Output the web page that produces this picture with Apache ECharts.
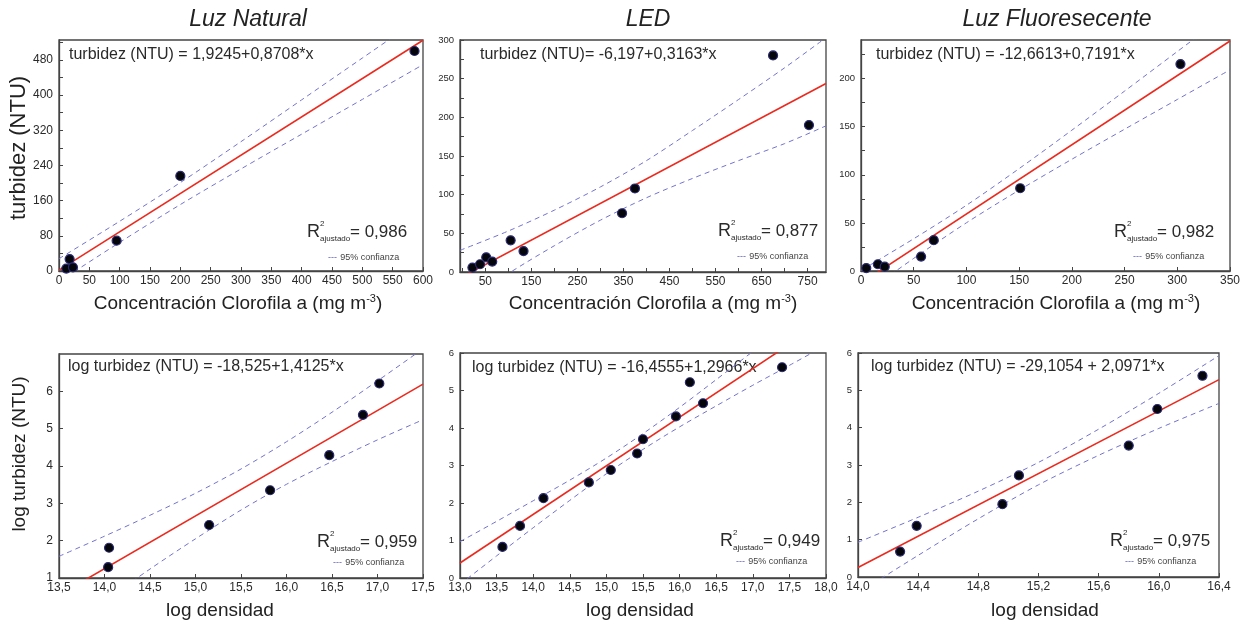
<!DOCTYPE html>
<html lang="es">
<head>
    <meta charset="UTF-8">
    <title>Turbidez frente a clorofila y densidad</title>
    <script src="https://cdn.jsdelivr.net/npm/echarts@6/dist/echarts.min.js"></script>
    <style>
        html, body {
            margin: 0;
            padding: 0;
            background: #fff;
        }

        #main {
            width: 1253px;
            height: 625px;
        }
    </style>
</head>
<body>
<div id="main"></div>
<script type="text/javascript">
    // Luz Natural: turbidez vs clorofila
    var natX = [12, 17.5, 23, 95, 200, 586];
    var natY = [5.5, 27, 8.4, 69, 216, 500];
    var natFitX = [0, 600];
    var natFitY = [1.92, 524.4];
    var natBandX = [0, 100, 200, 300, 400, 500, 600];
    var natUp = [28, 113, 201, 294, 389, 484, 579];
    var natLo = [-24, 65, 151, 232, 311, 390, 469];
    var natXTicks = [0, 50, 100, 150, 200, 250, 300, 350, 400, 450, 500, 550, 600];
    var natYLabels = [0, 80, 160, 240, 320, 400, 480];
    var natYTicks = [0, 40, 80, 120, 160, 200, 240, 280, 320, 360, 400, 440, 480, 520];

    // LED: turbidez vs clorofila
    var ledX = [22, 38.5, 52, 65, 105, 133, 347, 375, 675, 753];
    var ledY = [5.7, 10, 19, 13.5, 41, 27, 76, 108, 280, 190];
    var ledFitX = [-5, 790];
    var ledFitY = [-7.8, 243.7];
    var ledBandX = [-5, 100, 200, 300, 400, 500, 600, 700, 790];
    var ledUp = [28, 53, 80, 110, 144, 183, 223, 264, 303];
    var ledLo = [-44, -2, 34, 67, 96, 121, 144, 166, 189];
    var ledXLabels = [50, 150, 250, 350, 450, 550, 650, 750];
    var ledXTicks = [0, 50, 100, 150, 200, 250, 300, 350, 400, 450, 500, 550, 600, 650, 700, 750];
    var ledYLabels = [0, 50, 100, 150, 200, 250, 300];
    var ledYTicks = [0, 25, 50, 75, 100, 125, 150, 175, 200, 225, 250, 275, 300];

    // Luz Fluoresecente: turbidez vs clorofila
    var fluX = [5, 16, 22.5, 57, 69, 151, 303];
    var fluY = [3, 7, 4.5, 15, 32, 86, 215];
    var fluFitX = [0, 350];
    var fluFitY = [-12.66, 239.0];
    var fluBandX = [0, 50, 100, 150, 200, 250, 300, 350];
    var fluUp = [0.6, 33.5, 68.3, 106.4, 146.3, 186.9, 228, 269];
    var fluLo = [-26, 13.1, 50.1, 84, 116.1, 147.3, 178.2, 209];
    var fluXTicks = [0, 50, 100, 150, 200, 250, 300, 350];
    var fluYLabels = [0, 50, 100, 150, 200];
    var fluYTicks = [0, 25, 50, 75, 100, 125, 150, 175, 200, 225];

    // log turbidez vs log densidad
    var lnatX = [14.04, 14.05, 15.15, 15.82, 16.47, 16.84, 17.02];
    var lnatY = [1.29, 1.81, 2.42, 3.35, 4.29, 5.37, 6.21];
    var lnatFitX = [13.5, 17.5];
    var lnatFitY = [0.544, 6.194];
    var lnatBandX = [13.5, 14.0, 14.5, 15.0, 15.5, 16.0, 16.5, 17.0, 17.5];
    var lnatUp = [1.58, 2.12, 2.68, 3.27, 3.92, 4.65, 5.44, 6.28, 7.14];
    var lnatLo = [-0.50, 0.38, 1.24, 2.05, 2.82, 3.51, 4.12, 4.70, 5.24];
    var lnatXTicks = [13.5, 14.0, 14.5, 15.0, 15.5, 16.0, 16.5, 17.0, 17.5];
    var lnatYLabels = [1, 2, 3, 4, 5, 6];

    var lledX = [13.58, 13.82, 14.14, 14.76, 15.06, 15.42, 15.50, 15.95, 16.14, 16.32, 17.40];
    var lledY = [0.83, 1.39, 2.13, 2.55, 2.88, 3.32, 3.70, 4.31, 5.22, 4.66, 5.62];
    var lledFitX = [13, 18];
    var lledFitY = [0.40, 6.88];
    var lledBandX = [13.0, 13.5, 14.0, 14.5, 15.0, 15.5, 16.0, 16.5, 17.0, 17.5, 18.0];
    var lledUp = [0.97, 1.51, 2.06, 2.61, 3.20, 3.85, 4.55, 5.29, 6.04, 6.79, 7.55];
    var lledLo = [-0.17, 0.59, 1.34, 2.07, 2.78, 3.43, 4.03, 4.59, 5.14, 5.67, 6.21];
    var lledXTicks = [13.0, 13.5, 14.0, 14.5, 15.0, 15.5, 16.0, 16.5, 17.0, 17.5, 18.0];
    var lledYLabels = [0, 1, 2, 3, 4, 5, 6];

    var lfluX = [14.28, 14.39, 14.96, 15.07, 15.80, 15.99, 16.29];
    var lfluY = [0.68, 1.37, 1.95, 2.72, 3.52, 4.50, 5.39];
    var lfluFitX = [14.0, 16.4];
    var lfluFitY = [0.254, 5.287];
    var lfluBandX = [14.0, 14.4, 14.8, 15.2, 15.6, 16.0, 16.4];
    var lfluUp = [0.93, 1.60, 2.30, 3.07, 3.96, 4.92, 5.93];
    var lfluLo = [-0.43, 0.58, 1.56, 2.47, 3.26, 3.98, 4.65];
    var lfluXTicks = [14.0, 14.4, 14.8, 15.2, 15.6, 16.0, 16.4];
    var lfluYLabels = [0, 1, 2, 3, 4, 5, 6];

    var FONT = 'Liberation Sans, Arial, sans-serif';
    var AXIS = '#444';
    var TEXT = '#2a2a2a';

    function pairs(xs, ys) {
        return xs.map(function (x, i) {
            return [x, ys[i]];
        });
    }

    function comma(v) {
        return v.toFixed(1).replace('.', ',');
    }

    var panels = [
        {grid: {left: 59, top: 40, width: 364, height: 231},
            x: natX, y: natY, fx: natFitX, fy: natFitY, bx: natBandX, up: natUp, lo: natLo,
            xMin: 0, xMax: 600, xLab: natXTicks, xTick: natXTicks,
            yMin: 0, yMax: 525, yLab: natYLabels, yTick: natYTicks, yFont: 12, dec: false},
        {grid: {left: 460, top: 40, width: 366, height: 232},
            x: ledX, y: ledY, fx: ledFitX, fy: ledFitY, bx: ledBandX, up: ledUp, lo: ledLo,
            xMin: -5, xMax: 790, xLab: ledXLabels, xTick: ledXTicks,
            yMin: 0, yMax: 300, yLab: ledYLabels, yTick: ledYTicks, yFont: 9.5, dec: false},
        {grid: {left: 861, top: 40, width: 369, height: 231},
            x: fluX, y: fluY, fx: fluFitX, fy: fluFitY, bx: fluBandX, up: fluUp, lo: fluLo,
            xMin: 0, xMax: 350, xLab: fluXTicks, xTick: fluXTicks,
            yMin: 0, yMax: 240, yLab: fluYLabels, yTick: fluYTicks, yFont: 9.5, dec: false},
        {grid: {left: 59, top: 354, width: 364, height: 224},
            x: lnatX, y: lnatY, fx: lnatFitX, fy: lnatFitY, bx: lnatBandX, up: lnatUp, lo: lnatLo,
            xMin: 13.5, xMax: 17.5, xLab: lnatXTicks, xTick: lnatXTicks,
            yMin: 1, yMax: 7, yLab: lnatYLabels, yTick: lnatYLabels, yFont: 12, dec: true},
        {grid: {left: 460, top: 353, width: 366, height: 225},
            x: lledX, y: lledY, fx: lledFitX, fy: lledFitY, bx: lledBandX, up: lledUp, lo: lledLo,
            xMin: 13, xMax: 18, xLab: lledXTicks, xTick: lledXTicks,
            yMin: 0, yMax: 6, yLab: lledYLabels, yTick: lledYLabels, yFont: 9.5, dec: true},
        {grid: {left: 858, top: 353, width: 361, height: 224},
            x: lfluX, y: lfluY, fx: lfluFitX, fy: lfluFitY, bx: lfluBandX, up: lfluUp, lo: lfluLo,
            xMin: 14, xMax: 16.4, xLab: lfluXTicks, xTick: lfluXTicks,
            yMin: 0, yMax: 6, yLab: lfluYLabels, yTick: lfluYLabels, yFont: 9.5, dec: true}
    ];

    // textos: ecuación, R2 y leyenda de cada panel
    var notes = [
        {eq: 'turbidez (NTU) = 1,9245+0,8708*x', ex: 69, ey: 55, r2: '= 0,986', rx: 307, ry: 232, lx: 328, ly: 258},
        {eq: 'turbidez (NTU)= -6,197+0,3163*x', ex: 480, ey: 55, r2: '= 0,877', rx: 718, ry: 231, lx: 737, ly: 257},
        {eq: 'turbidez (NTU) = -12,6613+0,7191*x', ex: 876, ey: 55, r2: '= 0,982', rx: 1114, ry: 232, lx: 1133, ly: 257},
        {eq: 'log turbidez (NTU) = -18,525+1,4125*x', ex: 68, ey: 367, r2: '= 0,959', rx: 317, ry: 542, lx: 333, ly: 563},
        {eq: 'log turbidez (NTU) = -16,4555+1,2966*x', ex: 472, ey: 368, r2: '= 0,949', rx: 720, ry: 541, lx: 736, ly: 562},
        {eq: 'log turbidez (NTU) = -29,1054 + 2,0971*x', ex: 871, ey: 367, r2: '= 0,975', rx: 1110, ry: 541, lx: 1125, ly: 562}
    ];

    var option = {
        animation: false,
        backgroundColor: '#fff',
        grid: [],
        xAxis: [],
        yAxis: [],
        series: [],
        graphic: []
    };

    panels.forEach(function (p, i) {
        var g = p.grid;
        g.show = true;
        g.borderColor = AXIS;
        g.borderWidth = 1.3;
        option.grid.push(g);

        var xLabel = {
            customValues: p.xLab, color: TEXT, fontSize: 12, fontFamily: FONT, margin: 4
        };
        if (p.dec) xLabel.formatter = comma;
        option.xAxis.push({
            type: 'value', gridIndex: i, min: p.xMin, max: p.xMax,
            axisLine: {show: true, onZero: false, lineStyle: {color: AXIS, width: 1.3}},
            axisTick: {show: true, inside: true, length: 4, customValues: p.xTick, lineStyle: {color: AXIS}},
            axisLabel: xLabel,
            splitLine: {show: false}
        });
        option.yAxis.push({
            type: 'value', gridIndex: i, min: p.yMin, max: p.yMax,
            axisLine: {show: true, onZero: false, lineStyle: {color: AXIS, width: 1.3}},
            axisTick: {show: true, inside: true, length: 4, customValues: p.yTick, lineStyle: {color: AXIS}},
            axisLabel: {customValues: p.yLab, color: TEXT, fontSize: p.yFont, fontFamily: FONT, margin: 6},
            splitLine: {show: false}
        });

        // bandas de confianza 95%
        [p.up, p.lo].forEach(function (band) {
            option.series.push({
                type: 'line', xAxisIndex: i, yAxisIndex: i,
                data: pairs(p.bx, band), showSymbol: false, smooth: 0.3, clip: true,
                lineStyle: {color: '#7373cf', width: 1, type: [5, 4]},
                z: 2
            });
        });
        // recta de regresión
        option.series.push({
            type: 'line', xAxisIndex: i, yAxisIndex: i,
            data: pairs(p.fx, p.fy), showSymbol: false, clip: true,
            lineStyle: {color: '#ea2a1e', width: 1.6},
            z: 3
        });
        // observaciones
        option.series.push({
            type: 'scatter', xAxisIndex: i, yAxisIndex: i,
            data: pairs(p.x, p.y), symbolSize: 9,
            itemStyle: {color: '#05050c', borderColor: '#2a2a70', borderWidth: 1.2, opacity: 1},
            z: 4
        });

        var n = notes[i];
        option.graphic.push({
            type: 'text', x: n.ex, y: n.ey,
            style: {text: n.eq, fontSize: 16, fontFamily: FONT, fill: TEXT, align: 'left', verticalAlign: 'middle'}
        });
        option.graphic.push({
            type: 'text', x: n.rx, y: n.ry,
            style: {text: 'R', fontSize: 18, fontFamily: FONT, fill: TEXT, align: 'left', verticalAlign: 'middle'}
        });
        option.graphic.push({
            type: 'text', x: n.rx + 13, y: n.ry - 8,
            style: {text: '2', fontSize: 8, fontFamily: FONT, fill: TEXT, align: 'left', verticalAlign: 'middle'}
        });
        option.graphic.push({
            type: 'text', x: n.rx + 13, y: n.ry + 7,
            style: {text: 'ajustado', fontSize: 8, fontFamily: FONT, fill: TEXT, align: 'left', verticalAlign: 'middle'}
        });
        option.graphic.push({
            type: 'text', x: n.rx + 43, y: n.ry,
            style: {text: n.r2, fontSize: 17, fontFamily: FONT, fill: TEXT, align: 'left', verticalAlign: 'middle'}
        });
        option.graphic.push({
            type: 'text', x: n.lx, y: n.ly,
            style: {
                text: '{d|---} {t|95% confianza}', align: 'left', verticalAlign: 'middle',
                rich: {
                    d: {fontSize: 9, fontFamily: FONT, fill: '#5a5ac0'},
                    t: {fontSize: 9, fontFamily: FONT, fill: '#444'}
                }
            }
        });
    });

    // títulos de columna
    [['Luz Natural', 248], ['LED', 648], ['Luz Fluoresecente', 1057]].forEach(function (t) {
        option.graphic.push({
            type: 'text', x: t[1], y: 20,
            style: {text: t[0], fontSize: 23, fontStyle: 'italic', fontFamily: FONT, fill: '#222', align: 'center', verticalAlign: 'middle'}
        });
    });

    // títulos de ejes x
    [238, 653, 1056].forEach(function (cx) {
        option.graphic.push({
            type: 'text', x: cx, y: 304,
            style: {
                text: '{a|Concentración Clorofila a (mg m}{s|-3}{a|)}', align: 'center', verticalAlign: 'middle',
                rich: {
                    a: {fontSize: 19, fontFamily: FONT, fill: '#222', lineHeight: 22},
                    s: {fontSize: 11, fontFamily: FONT, fill: '#222', lineHeight: 11, verticalAlign: 'top'}
                }
            }
        });
    });
    [220, 640, 1045].forEach(function (cx) {
        option.graphic.push({
            type: 'text', x: cx, y: 611,
            style: {text: 'log densidad', fontSize: 19, fontFamily: FONT, fill: '#222', align: 'center', verticalAlign: 'middle'}
        });
    });

    // títulos de ejes y
    option.graphic.push({
        type: 'text', x: 19, y: 148, rotation: Math.PI / 2,
        style: {text: 'turbidez (NTU)', fontSize: 22, fontFamily: FONT, fill: '#222', align: 'center', verticalAlign: 'middle'}
    });
    option.graphic.push({
        type: 'text', x: 20, y: 454, rotation: Math.PI / 2,
        style: {text: 'log turbidez (NTU)', fontSize: 19, fontFamily: FONT, fill: '#222', align: 'center', verticalAlign: 'middle'}
    });

    var myChart = echarts.init(document.getElementById('main'));
    myChart.setOption(option);
</script>
</body>
</html>
